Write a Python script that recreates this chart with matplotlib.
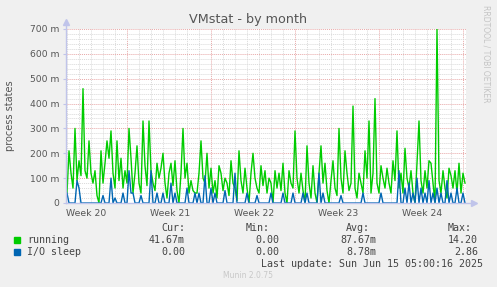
import matplotlib
matplotlib.use('Agg')
import matplotlib.pyplot as plt
from matplotlib.patches import Rectangle

# values in milli (m), one sample every 4 hours
running = [
    40, 210, 120, 60, 300, 90, 170, 110, 460, 130, 100, 250, 120, 80, 130, 30, 0, 210, 80, 160,
    250, 180, 290, 120, 60, 250, 90, 180, 60, 130, 80, 300, 180, 40, 120, 230, 80, 40, 330, 150,
    70, 330, 130, 80, 50, 160, 100, 140, 200, 80, 20, 120, 160, 70, 170, 50, 0, 120, 300, 100,
    160, 40, 90, 50, 40, 40, 120, 250, 100, 80, 200, 60, 140, 40, 90, 20, 150, 120, 50, 100,
    80, 30, 170, 80, 60, 10, 210, 90, 40, 140, 60, 0, 120, 200, 100, 60, 40, 150, 70, 130,
    40, 100, 80, 0, 130, 60, 120, 50, 160, 40, 0, 130, 80, 60, 290, 100, 40, 120, 50, 0,
    230, 80, 20, 150, 40, 0, 120, 230, 80, 160, 50, 0, 90, 170, 60, 30, 300, 100, 40, 210,
    120, 50, 80, 390, 60, 20, 120, 80, 40, 210, 100, 330, 40, 120, 420, 80, 40, 150, 100, 60,
    140, 80, 40, 170, 90, 290, 60, 120, 40, 220, 100, 60, 130, 40, 0, 160, 330, 90, 40, 130,
    60, 170, 160, 80, 0, 700, 90, 40, 130, 60, 20, 140, 110, 60, 130, 40, 160, 40, 120, 80,
]
io_sleep = [
    40, 0, 0, 0, 0, 90, 60, 0, 0, 0, 0, 0, 0, 0, 0, 0, 0, 0, 30, 0,
    0, 0, 100, 0, 20, 0, 0, 0, 40, 0, 0, 130, 40, 40, 0, 0, 0, 30, 0, 0,
    0, 0, 130, 0, 0, 40, 0, 0, 40, 0, 0, 0, 80, 0, 40, 0, 0, 0, 0, 0,
    60, 0, 0, 0, 40, 0, 40, 0, 0, 110, 0, 0, 60, 0, 40, 0, 0, 0, 0, 50,
    0, 0, 0, 0, 120, 0, 0, 0, 0, 0, 40, 0, 0, 0, 0, 30, 0, 0, 0, 0,
    0, 0, 40, 0, 0, 0, 0, 0, 40, 0, 0, 0, 0, 40, 0, 0, 0, 0, 40, 0,
    40, 0, 0, 0, 0, 0, 120, 0, 40, 0, 0, 0, 0, 0, 0, 0, 0, 30, 0, 0,
    0, 0, 0, 0, 0, 0, 0, 0, 40, 0, 0, 0, 0, 0, 0, 0, 0, 40, 0, 0,
    0, 0, 0, 0, 0, 0, 130, 0, 0, 60, 0, 80, 0, 40, 0, 100, 0, 60, 0, 40,
    0, 90, 0, 40, 0, 60, 0, 40, 0, 0, 90, 0, 40, 0, 0, 60, 0, 0, 40, 0,
]
week_labels = ['Week 20', 'Week 21', 'Week 22', 'Week 23', 'Week 24']
y_ticks = [0, 100, 200, 300, 400, 500, 600, 700]

legend_names = ['running', 'I/O sleep']
legend_colors = ['#00CC00', '#0066B3']
cur = ['41.67m', '0.00']
mins = ['0.00', '0.00']
avg = ['87.67m', '8.78m']
maxs = ['14.20', '2.86']

W, H = 497, 287
fx = lambda x: x / W
fy = lambda y: 1 - y / H

fig = plt.figure(figsize=(W / 100, H / 100), dpi=100, facecolor='#F0F0F0')
ax = fig.add_axes([fx(66), fy(203), 400 / W, 174 / H])
ax.set_facecolor('white')

# time in hours, 2 hours per pixel
hours = [2 + 4 * i for i in range(len(running))]
ax.set_xlim(0, 800)
ax.set_ylim(0, 700)

# grid
for h in range(2, 800, 24):
    major = (h - 122) % 168 == 0
    ax.axvline(h, color='#E8A8A8' if major else '#DADADA', lw=0.7,
               ls=(0, (1, 1)), zorder=1)
for v in range(20, 701, 20):
    ax.axhline(v, color='#E8A8A8' if v % 100 == 0 else '#DADADA', lw=0.7,
               ls=(0, (1, 1)), zorder=1)

ax.plot(hours, running, color=legend_colors[0], lw=1.0, zorder=3)
ax.plot(hours, io_sleep, color=legend_colors[1], lw=1.0, zorder=4)

for s in ax.spines.values():
    s.set_visible(False)

axis_col = '#C0C4EA'
ax.plot([0, 0], [0, 1.035], transform=ax.transAxes, color=axis_col, lw=1, clip_on=False, zorder=5)
ax.plot([0, 1.015], [0, 0], transform=ax.transAxes, color=axis_col, lw=1, clip_on=False, zorder=5)
ax.plot([0], [1.04], transform=ax.transAxes, marker='^', ms=4, color=axis_col, clip_on=False)
ax.plot([1.02], [0], transform=ax.transAxes, marker='>', ms=4, color=axis_col, clip_on=False)

ax.set_xticks([40 + 168 * k for k in range(5)])
ax.set_xticklabels(week_labels)
ax.set_yticks(y_ticks)
ax.set_yticklabels(['0' if v == 0 else '%d m' % v for v in y_ticks])
ax.tick_params(axis='x', length=0, pad=4, labelsize=6.7, labelcolor='#555555')
ax.tick_params(axis='y', length=2, width=0.8, color=axis_col, pad=3, labelsize=6.6,
               labelcolor='#555555')

fig.text(fx(248), fy(19), 'VMstat - by month', ha='center', va='center',
         fontsize=9.2, color='#555555')
fig.text(fx(10), fy(116), 'process states', ha='center', va='center',
         rotation=90, fontsize=7, color='#555555')
fig.text(fx(486), fy(5), 'RRDTOOL / TOBI OETIKER', ha='center', va='top',
         rotation=270, fontsize=5.5, color='#C4C4C4')

mono = dict(family='DejaVu Sans Mono', fontsize=7.2, color='#444444', va='center')
fig.text(fx(185), fy(228), 'Cur:', ha='right', **mono)
fig.text(fx(270), fy(228), 'Min:', ha='right', **mono)
fig.text(fx(370), fy(228), 'Avg:', ha='right', **mono)
fig.text(fx(472), fy(228), 'Max:', ha='right', **mono)
for k, name in enumerate(legend_names):
    y = 240 + 12 * k
    fig.add_artist(Rectangle((fx(14), fy(y + 3)), 6 / W, 6 / H, transform=fig.transFigure,
                             color=legend_colors[k]))
    fig.text(fx(27), fy(y), name, ha='left', **mono)
    fig.text(fx(185), fy(y), cur[k], ha='right', **mono)
    fig.text(fx(279), fy(y), mins[k], ha='right', **mono)
    fig.text(fx(376), fy(y), avg[k], ha='right', **mono)
    fig.text(fx(478), fy(y), maxs[k], ha='right', **mono)
fig.text(fx(483), fy(264), 'Last update: Sun Jun 15 05:00:16 2025', ha='right', **mono)
fig.text(fx(248), fy(276), 'Munin 2.0.75', ha='center', va='center',
         fontsize=5.5, color='#C8C8C8')

fig.savefig('out.png', dpi=100, facecolor=fig.get_facecolor())
